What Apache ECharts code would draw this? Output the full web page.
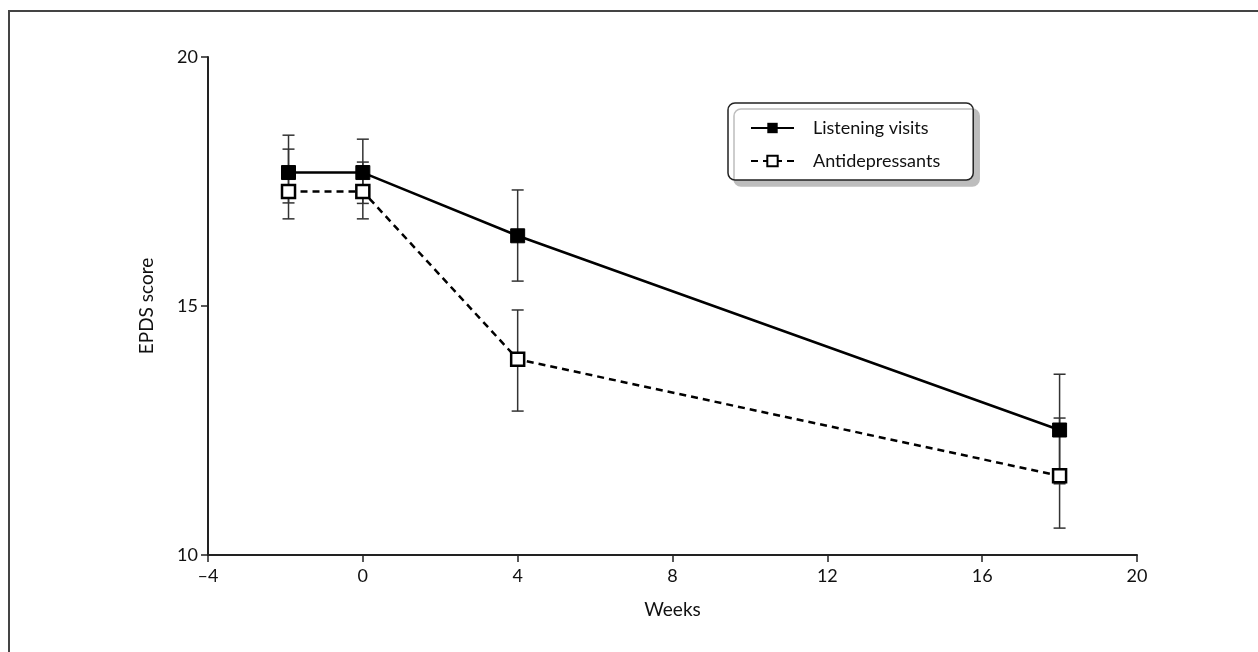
<!DOCTYPE html>
<html>
<head>
<meta charset="utf-8">
<title>EPDS score by week</title>
<script src="https://cdn.jsdelivr.net/npm/echarts@6/dist/echarts.min.js"></script>
<style>
  html, body { margin: 0; padding: 0; background: #fff; }
  #chart { width: 1258px; height: 652px; }
</style>
</head>
<body>
<div id="chart"></div>
<script>
// weeks at which EPDS was measured
const weeks = [-1.92, 0, 4, 18];

// Listening visits: mean and error bar ends
const listenMean = [17.68, 17.68, 16.41, 12.51];
const listenLow  = [17.07, 17.06, 15.50, 11.43];
const listenHigh = [18.43, 18.35, 17.33, 13.63];

// Antidepressants: mean and error bar ends
const antiMean = [17.30, 17.30, 13.93, 11.59];
const antiLow  = [16.75, 16.75, 12.89, 10.54];
const antiHigh = [18.15, 17.89, 14.92, 12.75];

const xTicks = [-4, 0, 4, 8, 12, 16, 20];
const yTicks = [10, 15, 20];

const font = 'Lato, "Open Sans", sans-serif';

function pairs(xs, ys) {
    return xs.map((x, i) => [x, ys[i]]);
}

function bars(xs, lo, hi) {
    return xs.map((x, i) => [x, lo[i], hi[i]]);
}

function renderBar(params, api) {
    const x = api.value(0);
    const top = api.coord([x, api.value(2)]);
    const bot = api.coord([x, api.value(1)]);
    const cap = 6;
    const style = { stroke: '#333', lineWidth: 1.5 };
    return {
        type: 'group',
        children: [
            { type: 'line', shape: { x1: top[0], y1: top[1], x2: bot[0], y2: bot[1] }, style },
            { type: 'line', shape: { x1: top[0] - cap, y1: top[1], x2: top[0] + cap, y2: top[1] }, style },
            { type: 'line', shape: { x1: bot[0] - cap, y1: bot[1], x2: bot[0] + cap, y2: bot[1] }, style }
        ]
    };
}

let chart = echarts.init(document.getElementById('chart'), null, { renderer: 'canvas' });

chart.setOption({
    animation: false,
    backgroundColor: '#fff',
    graphic: [{
        type: 'rect',
        shape: { x: 9, y: 11, width: 1300, height: 700 },
        style: { fill: 'none', stroke: '#444', lineWidth: 2 },
        silent: true
    }],
    grid: {
        left: 208,
        right: 121,
        top: 57,
        bottom: 97
    },
    legend: {
        data: ['Listening visits', 'Antidepressants'],
        orient: 'vertical',
        left: 728,
        top: 103,
        padding: [16, 33, 10, 22],
        itemGap: 15,
        itemWidth: 43,
        itemHeight: 13,
        backgroundColor: '#fff',
        borderColor: '#222',
        borderWidth: 1.5,
        borderRadius: 7,
        shadowColor: '#bdbdbd',
        shadowBlur: 0,
        shadowOffsetX: 6,
        shadowOffsetY: 6,
        textStyle: {
            fontFamily: font,
            fontSize: 18,
            color: '#111',
            padding: [0, 0, 0, 14]
        }
    },
    xAxis: {
        type: 'value',
        min: xTicks[0],
        max: xTicks[xTicks.length - 1],
        interval: 4,
        name: 'Weeks',
        nameLocation: 'middle',
        nameGap: 45,
        nameTextStyle: { fontFamily: font, fontSize: 19, color: '#111' },
        splitLine: { show: false },
        axisLine: { onZero: false, lineStyle: { color: '#222', width: 2 } },
        axisTick: { length: 7, lineStyle: { color: '#222', width: 1.5 } },
        axisLabel: {
            fontFamily: font,
            fontSize: 18,
            color: '#111',
            margin: 12,
            formatter: v => String(v).replace('-', '\u2013')
        }
    },
    yAxis: {
        type: 'value',
        min: yTicks[0],
        max: yTicks[yTicks.length - 1],
        interval: 5,
        name: 'EPDS score',
        nameLocation: 'middle',
        nameGap: 52,
        nameTextStyle: { fontFamily: font, fontSize: 19, color: '#111' },
        splitLine: { show: false },
        axisLine: { show: true, onZero: false, lineStyle: { color: '#222', width: 2 } },
        axisTick: { show: true, length: 7, lineStyle: { color: '#222', width: 1.5 } },
        axisLabel: { fontFamily: font, fontSize: 18, color: '#111', margin: 10 }
    },
    series: [
        {
            type: 'custom',
            name: 'listen-err',
            renderItem: renderBar,
            data: bars(weeks, listenLow, listenHigh),
            z: 1
        },
        {
            type: 'custom',
            name: 'anti-err',
            renderItem: renderBar,
            data: bars(weeks, antiLow, antiHigh),
            z: 1
        },
        {
            name: 'Listening visits',
            type: 'line',
            data: pairs(weeks, listenMean),
            symbol: 'rect',
            symbolSize: 14,
            itemStyle: { color: '#000', borderColor: '#000' },
            lineStyle: { color: '#000', width: 2.5 },
            z: 3
        },
        {
            name: 'Antidepressants',
            type: 'line',
            data: pairs(weeks, antiMean),
            symbol: 'rect',
            symbolSize: 13,
            itemStyle: { color: '#fff', borderColor: '#000', borderWidth: 2.5 },
            lineStyle: { color: '#000', width: 2.5, type: [7, 5] },
            z: 3
        }
    ]
});
</script>
</body>
</html>
